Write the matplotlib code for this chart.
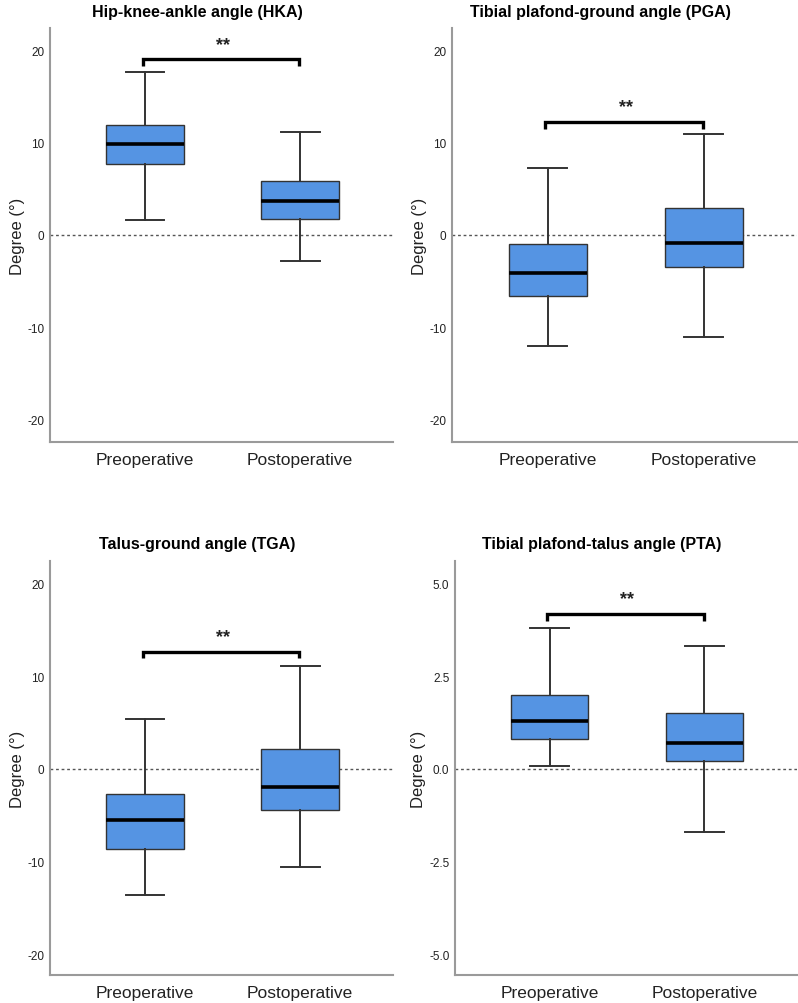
import numpy as np
import matplotlib
matplotlib.use('Agg')
import matplotlib.pyplot as plt

plt.rcParams['font.family'] = ['Liberation Sans', 'DejaVu Sans']
plt.rcParams['axes.unicode_minus'] = False

groups = ['Preoperative', 'Postoperative']
titles = ['Hip-knee-ankle angle (HKA)', 'Tibial plafond-ground angle (PGA)',
          'Talus-ground angle (TGA)', 'Tibial plafond-talus angle (PTA)']

# per panel: [whislo, q1, median, q3, whishi] for (pre, post)
hka = [[1.6, 7.7, 9.8, 11.9, 17.6], [-2.8, 1.7, 3.7, 5.8, 11.2]]
pga = [[-12.0, -6.6, -4.1, -1.0, 7.2], [-11.0, -3.5, -0.9, 2.9, 10.9]]
tga = [[-13.6, -8.6, -5.5, -2.7, 5.4], [-10.6, -4.4, -2.0, 2.1, 11.1]]
pta = [[0.09, 0.8, 1.3, 2.0, 3.8], [-1.7, 0.21, 0.7, 1.5, 3.3]]
panel_stats = [hka, pga, tga, pta]

yticks = [[-20, -10, 0, 10, 20]] * 3 + [[-5.0, -2.5, 0.0, 2.5, 5.0]]
ylims = [(-22.4, 22.4), (-22.4, 22.4), (-22.2, 22.4), (-5.55, 5.6)]
# significance bracket height and label height
bracket_y = [19.0, 12.25, 12.65, 4.18]
bracket_drop = [0.75, 0.75, 0.75, 0.19]
star_y = [20.6, 13.9, 14.25, 4.58]

W, H = 798, 1004
# axes boxes in pixels: left, right, top, bottom
boxes_px = [(50, 393, 29, 443), (452, 797, 29, 443),
            (50, 393, 562, 976), (455, 797, 562, 976)]

fig = plt.figure(figsize=(W / 100, H / 100), dpi=100)
box_color = '#5594e3'
edge = '#333333'
spine_c = '#9a9a9a'

for i, (l, r, t, b) in enumerate(boxes_px):
    ax = fig.add_axes([l / W, 1 - b / H, (r - l) / W, (b - t) / H])
    st = panel_stats[i]
    bxp = []
    for g, s in zip(groups, st):
        bxp.append({'label': g, 'whislo': s[0], 'q1': s[1], 'med': s[2],
                    'q3': s[3], 'whishi': s[4], 'fliers': []})
    ax.bxp(bxp, positions=[1, 2], widths=0.5, patch_artist=True,
           showfliers=False, capwidths=0.25,
           boxprops=dict(facecolor=box_color, edgecolor=edge, linewidth=1.0),
           medianprops=dict(color='black', linewidth=2.6),
           whiskerprops=dict(color=edge, linewidth=1.4),
           capprops=dict(color=edge, linewidth=1.4))
    ax.axhline(0, color='#555555', linestyle=(0, (2, 2)), linewidth=1.0, zorder=0)

    ax.set_xlim(0.387, 2.599)
    ax.set_ylim(*ylims[i])
    ax.set_yticks(yticks[i])
    if i == 3:
        ax.set_yticklabels([f'{v:.1f}' for v in yticks[i]])
    ax.tick_params(axis='y', length=0, pad=4, labelsize=8.5, labelcolor='#222222')
    ax.tick_params(axis='x', length=0, pad=7, labelsize=12.5, labelcolor='#222222')
    for sp in ['top', 'right']:
        ax.spines[sp].set_visible(False)
    for sp in ['left', 'bottom']:
        ax.spines[sp].set_color(spine_c)
        ax.spines[sp].set_linewidth(1.5)
    ax.set_ylabel('Degree (°)', fontsize=12, color='#222222', labelpad=2)
    ax.set_title(titles[i], fontsize=11.5, fontweight='bold', x=0.43, pad=9)

    # significance bracket
    by, dr = bracket_y[i], bracket_drop[i]
    ax.plot([0.985, 0.985, 1.995, 1.995], [by - dr, by, by, by - dr],
            color='black', linewidth=2.4, solid_capstyle='butt', solid_joinstyle='miter')
    ax.text(1.5, star_y[i], '**', ha='center', va='center', fontsize=13,
            fontweight='bold', color='#222222')

fig.savefig('out.png', dpi=100)
